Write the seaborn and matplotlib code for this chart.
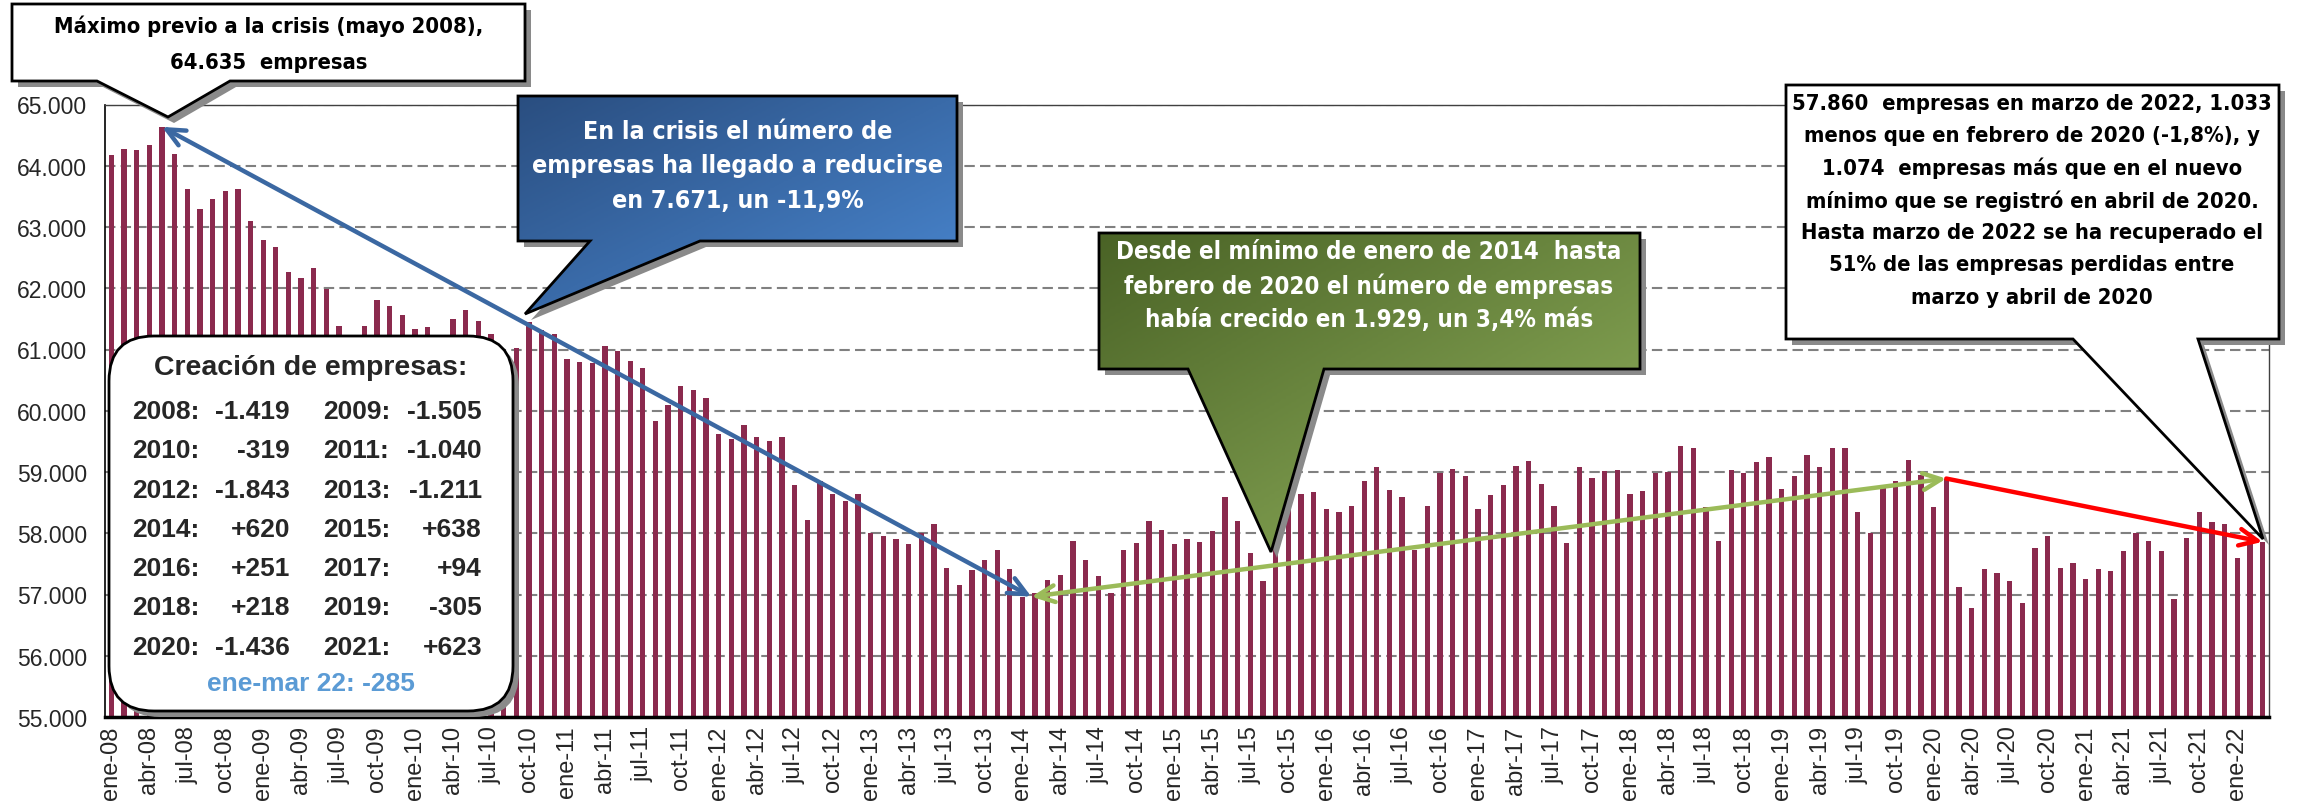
import numpy as np
import pandas as pd
import matplotlib
matplotlib.use("Agg")
import matplotlib.pyplot as plt
import seaborn as sns
from matplotlib import font_manager as fm
from matplotlib.patches import Polygon, FancyBboxPatch
from matplotlib.colors import LinearSegmentedColormap
from matplotlib.ticker import FuncFormatter

# empresas por mes (ene..dic)
e2008 = [64180, 64280, 64260, 64340, 64635, 64200, 63620, 63300, 63450, 63590, 63620, 63090]
e2009 = [62790, 62670, 62270, 62160, 62330, 61990, 61390, 61050, 61390, 61810, 61710, 61570]
e2010 = [61330, 61360, 61150, 61500, 61640, 61470, 61250, 60750, 61030, 61450, 61320, 61250]
e2011 = [60840, 60800, 60780, 61050, 60970, 60820, 60690, 59840, 60100, 60400, 60340, 60210]
e2012 = [59620, 59540, 59770, 59570, 59500, 59570, 58790, 58220, 58860, 58640, 58520, 58640]
e2013 = [58010, 57950, 57910, 57830, 58000, 58150, 57440, 57150, 57400, 57570, 57720, 57420]
e2014 = [56964, 57030, 57230, 57320, 57880, 57570, 57300, 57030, 57720, 57840, 58200, 58060]
e2015 = [57830, 57910, 57860, 58030, 58590, 58200, 57670, 57220, 57750, 58570, 58640, 58670]
e2016 = [58390, 58340, 58450, 58860, 59080, 58700, 58590, 57730, 58450, 58980, 59050, 58930]
e2017 = [58390, 58620, 58780, 59100, 59180, 58810, 58440, 57840, 59080, 58910, 59010, 59040]
e2018 = [58640, 58690, 58980, 59000, 59420, 59390, 58430, 57880, 59040, 58980, 59160, 59250]
e2019 = [58720, 58930, 59280, 59080, 59390, 59390, 58350, 58000, 58780, 58860, 59200, 58950]
e2020 = [58430, 58893, 57120, 56786, 57410, 57350, 57220, 56860, 57760, 57950, 57440, 57510]
e2021 = [57250, 57410, 57390, 57710, 58000, 57880, 57710, 56930, 57930, 58340, 58180, 58145]
e2022 = [57590, 57830, 57860]

anios = list(range(2008, 2023))
series = [e2008, e2009, e2010, e2011, e2012, e2013, e2014, e2015,
          e2016, e2017, e2018, e2019, e2020, e2021, e2022]
meses = ["ene", "feb", "mar", "abr", "may", "jun", "jul", "ago", "sep", "oct", "nov", "dic"]

creacion_anios = ["2008", "2009", "2010", "2011", "2012", "2013", "2014",
                  "2015", "2016", "2017", "2018", "2019", "2020", "2021"]
creacion_valores = ["-1.419", "-1.505", "-319", "-1.040", "-1.843", "-1.211", "+620",
                    "+638", "+251", "+94", "+218", "-305", "-1.436", "+623"]

etiquetas = [f"{m}-{str(a)[2:]}" for a, v in zip(anios, series) for m in meses[:len(v)]]
valores = np.concatenate([np.array(v, dtype=float) for v in series])
df = pd.DataFrame({"mes": etiquetas, "empresas": valores})

i_max = etiquetas.index("may-08")
i_min = etiquetas.index("ene-14")
i_feb20 = etiquetas.index("feb-20")
i_last = len(etiquetas) - 1

sns.set_style("white")
plt.rcParams["font.family"] = ["Liberation Sans", "DejaVu Sans"]

# fuente estrecha en negrita si existe alguna instalada
narrow = None
for f in fm.fontManager.ttflist:
    nm = f.name.lower()
    bold = f.weight in (600, 700, 800, "bold", "semibold", "demibold")
    cond = f.stretch in ("condensed", "semi-condensed", "extra-condensed") or "narrow" in nm or "condensed" in nm
    if bold and cond and f.style == "normal":
        if narrow is None or "liberation" in nm or "arial" in nm:
            narrow = f.fname
if narrow:
    FP = dict(fontproperties=fm.FontProperties(fname=narrow))
else:
    FP = dict(family=["Liberation Sans", "DejaVu Sans"], fontweight="bold")

W, H = 2298, 803
fig = plt.figure(figsize=(W / 100, H / 100), dpi=100)
ax = fig.add_axes([105 / W, 1 - 718 / H, (2269 - 105) / W, (718 - 105.5) / H])

sns.barplot(data=df, x="mes", y="empresas", color="#8B2A4E", saturation=1,
            width=0.42, linewidth=0, errorbar=None, ax=ax)

ax.set_ylim(55000, 65000)
ax.set_xlim(-0.5, len(etiquetas) - 0.5)
ax.set_yticks(np.arange(55000, 65001, 1000))
ax.yaxis.set_major_formatter(FuncFormatter(lambda v, p: f"{v:,.0f}".replace(",", ".")))
ax.set_xticks(range(0, len(etiquetas), 3))
ax.set_xticklabels(etiquetas[::3], rotation=90)
ax.set_xlabel("")
ax.set_ylabel("")
ax.tick_params(axis="y", length=0, labelsize=16.5, pad=13)
ax.tick_params(axis="x", length=0, labelsize=17, pad=6)
ax.yaxis.grid(True, color="#808080", lw=1.5, linestyle=(0, (5, 2.5)))
ax.set_axisbelow(True)
for s in ["top", "right"]:
    ax.spines[s].set_color("#404040")
    ax.spines[s].set_linewidth(1)
ax.spines["left"].set_color("black")
ax.spines["left"].set_linewidth(1.2)
ax.spines["bottom"].set_color("black")
ax.spines["bottom"].set_linewidth(2.5)


def flecha(x0, y0, x1, y1, color, estilo):
    ax.annotate("", xy=(x1, y1), xytext=(x0, y0),
                arrowprops=dict(arrowstyle=estilo, color=color, lw=3.2,
                                shrinkA=0, shrinkB=0, mutation_scale=10))


flecha(i_min + 0.7, valores[i_min], i_max, valores[i_max], "#3B68A2",
       "<->,head_length=1.3,head_width=0.6")
flecha(i_min + 0.7, valores[i_min], i_feb20, valores[i_feb20], "#9BBB59",
       "<->,head_length=1.3,head_width=0.6")
flecha(i_feb20, valores[i_feb20], i_last, valores[i_last], "#FF0000",
       "->,head_length=1.3,head_width=0.6")

# capa de anotaciones en pixeles
ov = fig.add_axes([0, 0, 1, 1], zorder=5)
ov.set_facecolor("none")
ov.axis("off")


def callout(box, tail, tip, face="white", grad=None):
    x0, y0, x1, y1 = box
    t0, t1 = tail
    pts = [(x0, y0), (x1, y0), (x1, y1), (t1, y1), tip, (t0, y1), (x0, y1)]
    ov.add_patch(Polygon([(x + 6, y + 6) for x, y in pts], closed=True,
                         fc="#8a8a8a", ec="none", zorder=1))
    poly = Polygon(pts, closed=True, fc=face if grad is None else "none",
                   ec="black", lw=2, zorder=3, joinstyle="miter")
    ov.add_patch(poly)
    if grad is not None:
        cmap = LinearSegmentedColormap.from_list("g", grad)
        gx, gy = np.meshgrid(np.linspace(0, 1, 200), np.linspace(0, 1, 100))
        im = ov.imshow((gx + gy) / 2, cmap=cmap, vmin=0, vmax=1, origin="upper",
                       extent=(x0, x1, max(y1, tip[1]), y0), aspect="auto", zorder=2)
        im.set_clip_path(poly)


callout((12, 5, 525, 82), (97, 230), (168, 118))
callout((518, 97, 957, 242), (590, 700), (525, 315), grad=["#2A4E80", "#4A88D2"])
callout((1099, 234, 1640, 370), (1188, 1324), (1271, 553), grad=["#4A6326", "#92B25E"])
callout((1786, 86, 2279, 340), (2073, 2198), (2263, 540))

ov.set_xlim(0, W)
ov.set_ylim(H, 0)


def bloque(lineas, xc, y0, paso, ancho, color="black", fs0=20, fsmax=21):
    ts = [ov.text(xc, y0 + paso * k, l, ha="center", va="center", color=color,
                  fontsize=fs0, zorder=4, **FP) for k, l in enumerate(lineas)]
    r = fig.canvas.get_renderer()
    w = max(t.get_window_extent(r).width for t in ts)
    fs = min(fsmax, fs0 * ancho / w)
    for t in ts:
        t.set_fontsize(fs)


bloque(["Máximo previo a la crisis (mayo 2008),", "64.635  empresas"],
       269, 26, 37, 428)
bloque(["En la crisis el número de", "empresas ha llegado a reducirse", "en 7.671, un -11,9%"],
       738, 132, 34.5, 412, color="white")
bloque(["Desde el mínimo de enero de 2014  hasta", "febrero de 2020 el número de empresas",
        "había crecido en 1.929, un 3,4% más"],
       1369, 252, 34, 506, color="white")
bloque(["57.860  empresas en marzo de 2022, 1.033", "menos que en febrero de 2020 (-1,8%), y",
        "1.074  empresas más que en el nuevo", "mínimo que se registró en abril de 2020.",
        "Hasta marzo de 2022 se ha recuperado el", "51% de las empresas perdidas entre",
        "marzo y abril de 2020"],
       2032, 104, 32.3, 478)

# recuadro de creación de empresas
ov.add_patch(FancyBboxPatch((115, 343), 404, 375, boxstyle="round,pad=0,rounding_size=45",
                            fc="#8a8a8a", ec="none", zorder=1))
ov.add_patch(FancyBboxPatch((109, 337), 404, 375, boxstyle="round,pad=0,rounding_size=45",
                            fc="white", ec="black", lw=2, zorder=3))
ov.text(311, 368, "Creación de empresas:", ha="center", va="center",
        fontsize=20.5, fontweight="bold", zorder=4)
for k in range(0, len(creacion_anios), 2):
    y = 412 + 39.3 * (k // 2)
    ov.text(132, y, creacion_anios[k] + ":", ha="left", va="center",
            fontsize=19, fontweight="bold", zorder=4)
    ov.text(290, y, creacion_valores[k], ha="right", va="center",
            fontsize=19, fontweight="bold", zorder=4)
    ov.text(323, y, creacion_anios[k + 1] + ":", ha="left", va="center",
            fontsize=19, fontweight="bold", zorder=4)
    ov.text(482, y, creacion_valores[k + 1], ha="right", va="center",
            fontsize=19, fontweight="bold", zorder=4)
ov.text(311, 684, "ene-mar 22: -285", ha="center", va="center",
        fontsize=19, fontweight="bold", color="#5B9BD5", zorder=4)

fig.savefig("out.png", dpi=100)
